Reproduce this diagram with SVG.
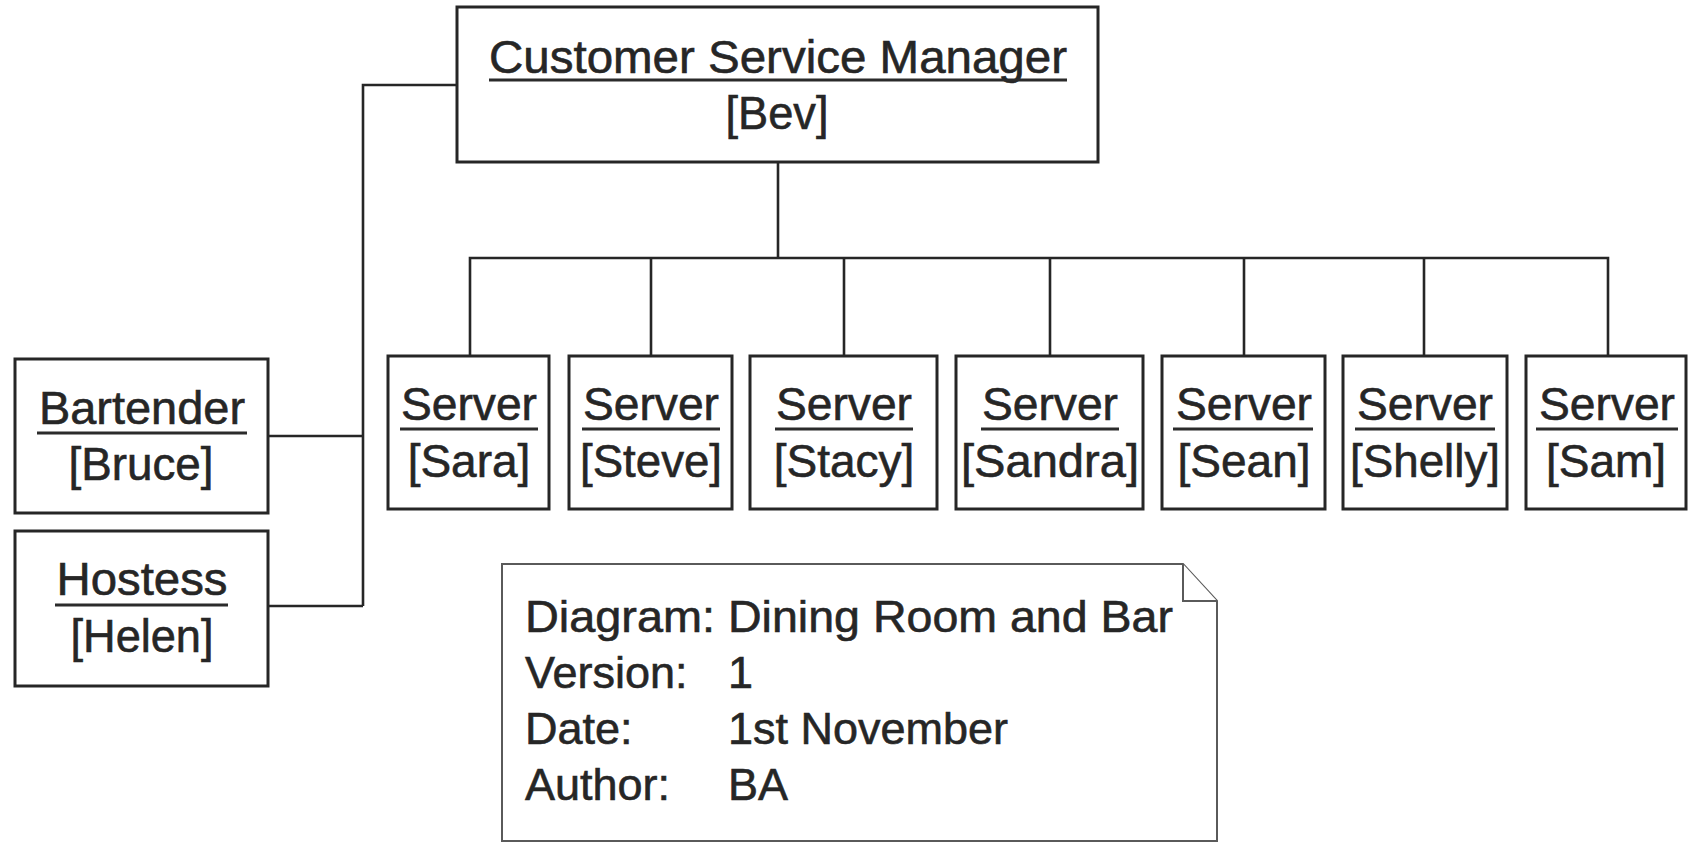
<svg xmlns="http://www.w3.org/2000/svg" width="1688" height="843" viewBox="0 0 1688 843">
  <style>
    .box { fill: #ffffff; stroke: #262626; stroke-width: 3; }
    .note { fill: #ffffff; stroke: #5a5a5a; stroke-width: 2; }
    .wire { fill: none; stroke: #262626; stroke-width: 2.6; }
    .ul { stroke: #2b2b2b; stroke-width: 3; }
    text { font-family: "Liberation Sans", Arial, Helvetica, sans-serif; fill: #262626; stroke: #262626; stroke-width: 0.6; }
    .lbl { font-size: 46px; text-anchor: middle; }
    .nt { font-size: 45px; }
  </style>

  <rect width="1688" height="843" fill="#ffffff"/>

  <!-- connectors -->
  <g id="connectors">
    <polyline class="wire" points="457,85 363,85 363,606"/>
    <line class="wire" x1="268" y1="436" x2="363" y2="436"/>
    <line class="wire" x1="268" y1="606" x2="363" y2="606"/>
    <line class="wire" x1="778" y1="162" x2="778" y2="258"/>
    <polyline class="wire" points="470,356 470,258 1608,258 1608,356"/>
    <line class="wire" x1="651" y1="258" x2="651" y2="356"/>
    <line class="wire" x1="844" y1="258" x2="844" y2="356"/>
    <line class="wire" x1="1050" y1="258" x2="1050" y2="356"/>
    <line class="wire" x1="1244" y1="258" x2="1244" y2="356"/>
    <line class="wire" x1="1424" y1="258" x2="1424" y2="356"/>
  </g>

  <!-- manager -->
  <g id="csm">
    <rect class="box" x="457" y="7" width="641" height="155"/>
    <text class="lbl" x="778" y="73" font-size="47" textLength="578" lengthAdjust="spacingAndGlyphs">Customer Service Manager</text>
    <line class="ul" x1="489" y1="80" x2="1067" y2="80"/>
    <text class="lbl" x="777" y="129" textLength="103" lengthAdjust="spacingAndGlyphs">[Bev]</text>
  </g>

  <!-- bar staff -->
  <g id="bartender">
    <rect class="box" x="15" y="359" width="253" height="154"/>
    <text class="lbl" x="142" y="424" textLength="206" lengthAdjust="spacingAndGlyphs">Bartender</text>
    <line class="ul" x1="37" y1="433" x2="247" y2="433"/>
    <text class="lbl" x="141" y="480" textLength="145" lengthAdjust="spacingAndGlyphs">[Bruce]</text>
  </g>
  <g id="hostess">
    <rect class="box" x="15" y="531" width="253" height="155"/>
    <text class="lbl" x="142" y="595" textLength="171" lengthAdjust="spacingAndGlyphs">Hostess</text>
    <line class="ul" x1="55" y1="605" x2="228" y2="605"/>
    <text class="lbl" x="142" y="652" textLength="143" lengthAdjust="spacingAndGlyphs">[Helen]</text>
  </g>

  <!-- servers -->
  <g id="server-sara">
    <rect class="box" x="388" y="356" width="161" height="153"/>
    <text class="lbl" x="469" y="420" textLength="136" lengthAdjust="spacingAndGlyphs">Server</text>
    <line class="ul" x1="400" y1="429" x2="538" y2="429"/>
    <text class="lbl" x="469" y="477">[Sara]</text>
  </g>
  <g id="server-steve">
    <rect class="box" x="569" y="356" width="163" height="153"/>
    <text class="lbl" x="651" y="420" textLength="136" lengthAdjust="spacingAndGlyphs">Server</text>
    <line class="ul" x1="582" y1="429" x2="720" y2="429"/>
    <text class="lbl" x="651" y="477" textLength="142" lengthAdjust="spacingAndGlyphs">[Steve]</text>
  </g>
  <g id="server-stacy">
    <rect class="box" x="750" y="356" width="187" height="153"/>
    <text class="lbl" x="844" y="420" textLength="136" lengthAdjust="spacingAndGlyphs">Server</text>
    <line class="ul" x1="775" y1="429" x2="913" y2="429"/>
    <text class="lbl" x="844" y="477">[Stacy]</text>
  </g>
  <g id="server-sandra">
    <rect class="box" x="956" y="356" width="187" height="153"/>
    <text class="lbl" x="1050" y="420" textLength="136" lengthAdjust="spacingAndGlyphs">Server</text>
    <line class="ul" x1="981" y1="429" x2="1119" y2="429"/>
    <text class="lbl" x="1050" y="477" textLength="178" lengthAdjust="spacingAndGlyphs">[Sandra]</text>
  </g>
  <g id="server-sean">
    <rect class="box" x="1162" y="356" width="163" height="153"/>
    <text class="lbl" x="1244" y="420" textLength="136" lengthAdjust="spacingAndGlyphs">Server</text>
    <line class="ul" x1="1173" y1="429" x2="1313" y2="429"/>
    <text class="lbl" x="1244" y="477">[Sean]</text>
  </g>
  <g id="server-shelly">
    <rect class="box" x="1343" y="356" width="164" height="153"/>
    <text class="lbl" x="1425" y="420" textLength="136" lengthAdjust="spacingAndGlyphs">Server</text>
    <line class="ul" x1="1355" y1="429" x2="1495" y2="429"/>
    <text class="lbl" x="1425" y="477" textLength="150" lengthAdjust="spacingAndGlyphs">[Shelly]</text>
  </g>
  <g id="server-sam">
    <rect class="box" x="1526" y="356" width="160" height="153"/>
    <text class="lbl" x="1607" y="420" textLength="136" lengthAdjust="spacingAndGlyphs">Server</text>
    <line class="ul" x1="1536" y1="429" x2="1678" y2="429"/>
    <text class="lbl" x="1606" y="477">[Sam]</text>
  </g>

  <!-- diagram information note -->
  <g id="note">
    <path class="note" d="M502,564 L1183,564 L1217,601 L1217,841 L502,841 Z"/>
    <polyline class="note" fill="none" points="1183,564 1183,601 1217,601"/>
    <text class="nt" x="525" y="632" textLength="190" lengthAdjust="spacingAndGlyphs">Diagram:</text>
    <text class="nt" x="728" y="632" textLength="445" lengthAdjust="spacingAndGlyphs">Dining Room and Bar</text>
    <text class="nt" x="525" y="688">Version:</text>
    <text class="nt" x="728" y="688">1</text>
    <text class="nt" x="525" y="744">Date:</text>
    <text class="nt" x="728" y="744">1st November</text>
    <text class="nt" x="525" y="800">Author:</text>
    <text class="nt" x="728" y="800">BA</text>
  </g>
</svg>
